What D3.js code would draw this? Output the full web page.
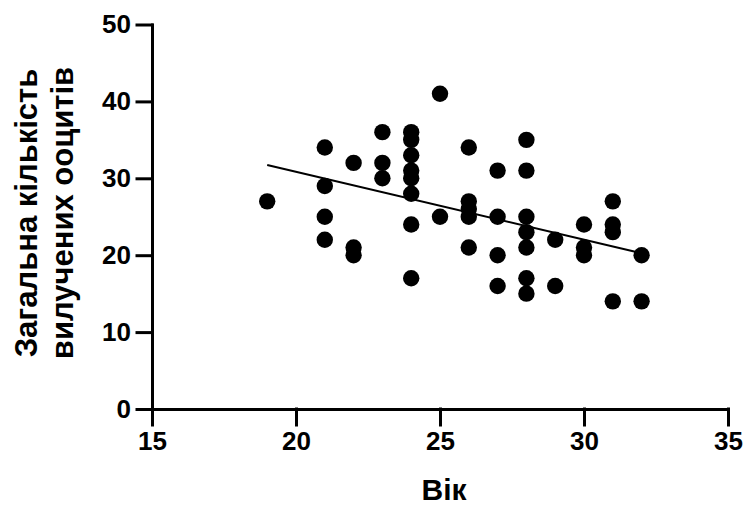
<!DOCTYPE html>
<html>
<head>
<meta charset="utf-8">
<script src="https://cdn.jsdelivr.net/npm/d3@7"></script>
<style>
  body { margin: 0; background: #fff; }
  svg text { font-family: "Liberation Sans", Arial, sans-serif; font-weight: bold; fill: #000; }
</style>
</head>
<body>
<div id="wrapper"></div>
<script>
// вік пацієнток (x) та кількість ооцитів (y)
const ages = [
  19,
  21, 21, 21, 21,
  22, 22, 22,
  23, 23, 23,
  24, 24, 24, 24, 24, 24, 24, 24,
  25, 25,
  26, 26, 26, 26, 26,
  27, 27, 27, 27,
  28, 28, 28, 28, 28, 28, 28,
  29, 29,
  30, 30, 30,
  31, 31, 31, 31,
  32, 32
]
const oocytes = [
  27,
  34, 29, 25, 22,
  32, 21, 20,
  36, 32, 30,
  36, 35, 33, 31, 30, 28, 24, 17,
  41, 25,
  34, 27, 26, 25, 21,
  31, 25, 20, 16,
  35, 31, 25, 23, 21, 17, 15,
  22, 16,
  24, 21, 20,
  27, 24, 23, 14,
  20, 14
]
const xTicks = [15, 20, 25, 30, 35]
const yTicks = [0, 10, 20, 30, 40, 50]
const xTitle = "Вік"
const yTitleLines = ["Загальна кількість", "вилучених ооцитів"]

function drawScatter() {
  const dataset = ages.map((a, i) => ({ age: a, count: oocytes[i] }))
  const xAccessor = d => d.age
  const yAccessor = d => d.count

  let dimensions = {
    width: 746,
    height: 507,
    margin: { top: 24.5, right: 18, bottom: 98, left: 152 },
  }
  dimensions.boundedWidth = dimensions.width - dimensions.margin.left - dimensions.margin.right
  dimensions.boundedHeight = dimensions.height - dimensions.margin.top - dimensions.margin.bottom

  const wrapper = d3.select("#wrapper")
    .append("svg")
      .attr("width", dimensions.width)
      .attr("height", dimensions.height)

  const bounds = wrapper.append("g")
    .attr("transform", `translate(${dimensions.margin.left},${dimensions.margin.top})`)

  const xScale = d3.scaleLinear()
    .domain([15, 35])
    .range([0, dimensions.boundedWidth])

  const yScale = d3.scaleLinear()
    .domain([0, 50])
    .range([dimensions.boundedHeight, 0])

  // лінія регресії (метод найменших квадратів)
  const mx = d3.mean(dataset, xAccessor)
  const my = d3.mean(dataset, yAccessor)
  const slope = d3.sum(dataset, d => (xAccessor(d) - mx) * (yAccessor(d) - my)) /
    d3.sum(dataset, d => (xAccessor(d) - mx) ** 2)
  const [x0, x1] = d3.extent(dataset, xAccessor)
  const fit = [x0, x1].map(x => ({ age: x, count: my + slope * (x - mx) }))

  const lineGenerator = d3.line()
    .x(d => xScale(xAccessor(d)))
    .y(d => yScale(yAccessor(d)))

  bounds.append("path")
    .attr("d", lineGenerator(fit))
    .attr("fill", "none")
    .attr("stroke", "#000")
    .attr("stroke-width", 2)

  bounds.append("g")
    .selectAll("circle")
    .data(dataset)
    .join("circle")
      .attr("cx", d => xScale(xAccessor(d)))
      .attr("cy", d => yScale(yAccessor(d)))
      .attr("r", 8.2)
      .attr("fill", "#000")

  // осі
  const yAxisGenerator = d3.axisLeft(yScale)
    .tickValues(yTicks)
    .tickSize(15)
    .tickSizeOuter(0)
    .tickPadding(6)
  const yAxis = bounds.append("g").call(yAxisGenerator)

  const xAxisGenerator = d3.axisBottom(xScale)
    .tickValues(xTicks)
    .tickSize(16)
    .tickSizeOuter(0)
    .tickPadding(7)
  const xAxis = bounds.append("g")
    .attr("transform", `translate(0,${dimensions.boundedHeight})`)
    .call(xAxisGenerator)

  ;[xAxis, yAxis].forEach(ax => {
    ax.selectAll("path, line")
      .attr("stroke", "#000")
      .attr("stroke-width", 3)
      .attr("stroke-linecap", "square")
    ax.selectAll("text")
      .attr("font-size", 26)
      .attr("font-family", "'Liberation Sans', Arial, sans-serif")
      .attr("font-weight", "bold")
      .attr("fill", "#000")
  })

  // підписи осей
  wrapper.append("text")
    .attr("x", dimensions.margin.left + dimensions.boundedWidth / 2 + 4)
    .attr("y", 500)
    .attr("text-anchor", "middle")
    .attr("font-size", 30)
    .text(xTitle)

  const yTitle = wrapper.append("text")
    .attr("transform", `translate(37,213) rotate(-90)`)
    .attr("text-anchor", "middle")
    .attr("font-size", 31)
  yTitle.selectAll("tspan")
    .data(yTitleLines)
    .join("tspan")
      .attr("x", 0)
      .attr("dy", (d, i) => i === 0 ? 0 : 36)
      .text(d => d)
}

drawScatter()
</script>
</body>
</html>
